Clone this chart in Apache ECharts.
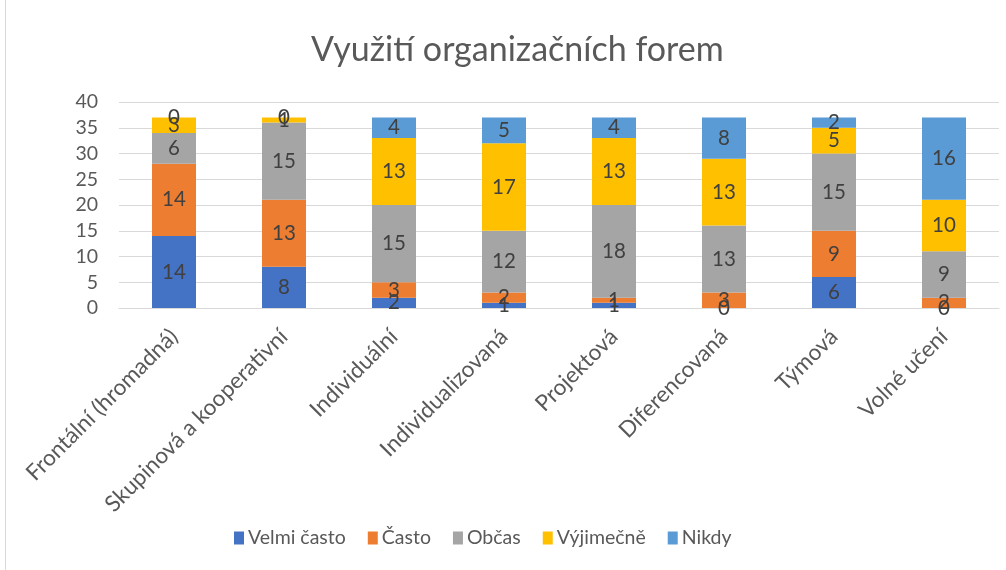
<!DOCTYPE html>
<html>
<head>
<meta charset="utf-8">
<script src="https://cdn.jsdelivr.net/npm/echarts@6/dist/echarts.min.js"></script>
<style>
  html, body { margin: 0; padding: 0; background: #fff; }
  #chart { width: 1006px; height: 570px; }
  .frame { position: absolute; left: 5px; top: -2px; width: 1010px; height: 580px; border: 1px solid #d9d9d9; pointer-events: none; }
</style>
</head>
<body>
<div id="chart"></div>
<div class="frame"></div>
<script>
const categories = ["Frontální (hromadná)", "Skupinová a kooperativní", "Individuální", "Individualizovaná", "Projektová", "Diferencovaná", "Týmová", "Volné učení"];
const velmiCasto = [14, 8, 2, 1, 1, 0, 6, 0];
const casto = [14, 13, 3, 2, 1, 3, 9, 2];
const obcas = [6, 15, 15, 12, 18, 13, 15, 9];
const vyjimecne = [3, 1, 13, 17, 13, 13, 5, 10];
const nikdy = [0, 0, 4, 5, 4, 8, 2, 16];
const yTicks = [0, 5, 10, 15, 20, 25, 30, 35, 40];

const font = "Lato, 'Open Sans', sans-serif";
const seriesDefs = [
  { name: "Velmi často", data: velmiCasto, color: "#4472C4" },
  { name: "Často", data: casto, color: "#ED7D31" },
  { name: "Občas", data: obcas, color: "#A5A5A5" },
  { name: "Výjimečně", data: vyjimecne, color: "#FFC000" },
  { name: "Nikdy", data: nikdy, color: "#5B9BD5" }
];

const chart = echarts.init(document.getElementById("chart"));
chart.setOption({
  animation: false,
  textStyle: { fontFamily: font },
  title: {
    text: "Využití organizačních forem",
    left: 306,
    top: 28,
    textStyle: { fontSize: 34, fontWeight: "normal", color: "#595959", fontFamily: font }
  },
  legend: {
    top: 523,
    left: 229,
    itemWidth: 10,
    itemHeight: 13,
    itemGap: 22,
    icon: "rect",
    textStyle: { fontSize: 19.5, color: "#595959", fontFamily: font, padding: [0, 0, 0, -1] },
    data: seriesDefs.map(s => s.name)
  },
  grid: {
    left: 119,
    right: 7,
    top: 102,
    height: 206
  },
  xAxis: {
    type: "category",
    data: categories,
    axisTick: { show: false },
    axisLine: { lineStyle: { color: "#d9d9d9", width: 1 } },
    axisLabel: { rotate: 45, fontSize: 22.5, color: "#595959", interval: 0, margin: 25 }
  },
  yAxis: {
    type: "value",
    min: yTicks[0],
    max: yTicks[yTicks.length - 1],
    interval: 5,
    axisLine: { show: false },
    axisTick: { show: false },
    axisLabel: { fontSize: 19.5, color: "#595959", margin: 21 },
    splitLine: { lineStyle: { color: "#d9d9d9", width: 1 } }
  },
  series: seriesDefs.map(s => ({
    name: s.name,
    type: "bar",
    stack: "total",
    barWidth: "40%",
    data: s.data,
    itemStyle: { color: s.color },
    label: {
      show: true,
      position: "inside",
      fontSize: 20.5,
      color: "#404040",
      fontFamily: font
    }
  }))
});
</script>
</body>
</html>
